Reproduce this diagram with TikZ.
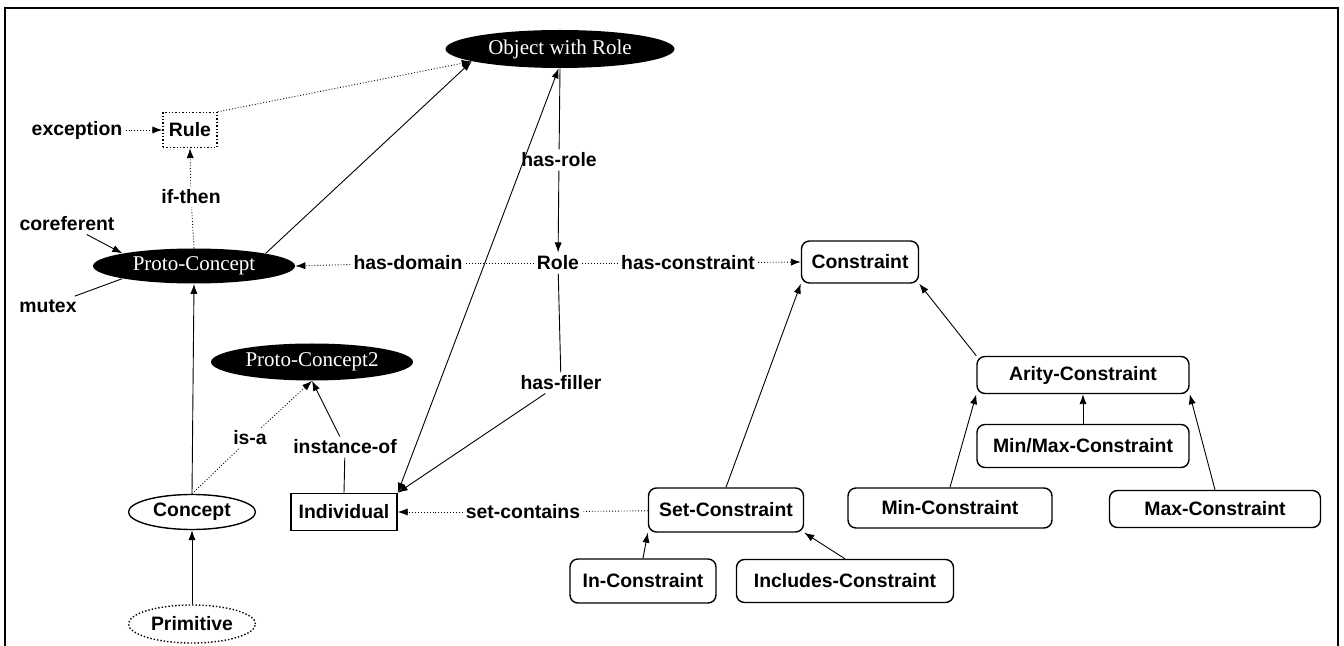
\documentclass[tikz,border=0pt]{standalone}
\usepackage{fontspec}
\setmainfont{Liberation Sans}
\newfontfamily\serifell{Liberation Serif}
\usepackage{tikz}
\usetikzlibrary{calc}
\usetikzlibrary{arrows.meta,shapes,shapes.geometric}
\usetikzlibrary{positioning}

\begin{document}
\begin{tikzpicture}[x=0.5pt,y=-0.5pt,
    lbl/.style={font=\bfseries\fontsize{9.7}{11}\selectfont,inner sep=1.5pt},
    blob/.style={ellipse,fill=black,text=white,font=\serifell\fontsize{10.5}{12}\selectfont,inner sep=0pt},
    whiteoval/.style={ellipse,draw,line width=0.7pt,lbl,inner sep=0pt},
    rbox/.style={rectangle,rounded corners=4pt,draw,line width=0.7pt,lbl,inner sep=0pt,minimum height=21pt},
    sqbox/.style={rectangle,draw,line width=0.7pt,lbl,inner sep=0pt},
    arr/.style={-{Latex[length=5pt,width=3.6pt]}},
    solidline/.style={line width=0.45pt},
    dotline/.style={line width=0.45pt,densely dotted}]
  \useasboundingbox (0,0) rectangle (1344,646);
  \draw[line width=1.1pt] (5,646) -- (5,8) -- (1338,8) -- (1338,646);

  \node[blob,minimum width=114.5pt,minimum height=19pt] (owr) at (560,49) {Object with Role};
  \node[sqbox,densely dotted,minimum width=27pt,minimum height=17.5pt] (rule) at (190,130) {Rule};
  \node[lbl] (exc) at (77,130) {exception};
  \node[lbl] (ifthen) at (191,197) {if-then};
  \node[lbl] (coref) at (67,224) {coreferent};
  \node[blob,minimum width=101pt,minimum height=17.5pt] (pc) at (194,266) {Proto-Concept};
  \node[lbl] (mutex) at (48,306) {mutex};
  \node[lbl] (hasdom) at (408,263) {has-domain};
  \node[lbl] (role) at (558,263) {Role};
  \node[lbl] (hascons) at (688,263) {has-constraint};
  \node[rbox,minimum width=58.5pt] (cons) at (860,262) {Constraint};
  \node[lbl] (hasrole) at (559,160) {has-role};
  \node[blob,minimum width=101pt,minimum height=18.5pt] (pc2) at (312,362) {Proto-Concept2};
  \node[lbl] (hasfill) at (561,383) {has-filler};
  \node[lbl] (isa) at (250,438) {is-a};
  \node[lbl] (instof) at (345,447) {instance-of};
  \node[whiteoval,minimum width=63.5pt,minimum height=17.5pt] (concept) at (192,512) {Concept};
  \node[sqbox,minimum width=53pt,minimum height=18.5pt] (ind) at (344,512) {Individual};
  \node[lbl] (setcont) at (523,512) {set-contains};
  \node[rbox,minimum width=77.5pt,minimum height=22pt] (setc) at (726,510) {Set-Constraint};
  \node[rbox,minimum width=73pt,minimum height=22pt] (inc) at (643,581) {In-Constraint};
  \node[rbox,minimum width=108.5pt,minimum height=21.5pt] (inclc) at (845,581) {Includes-Constraint};
  \node[rbox,minimum width=106pt,minimum height=18.5pt] (arity) at (1083,375) {Arity-Constraint};
  \node[rbox,minimum width=106pt,minimum height=21.5pt] (minmax) at (1083,446) {Min/Max-Constraint};
  \node[rbox,minimum width=102pt,minimum height=20pt] (minc) at (950,508) {Min-Constraint};
  \node[rbox,minimum width=105.5pt,minimum height=18.5pt] (maxc) at (1215,509) {Max-Constraint};
  \node[whiteoval,densely dotted,minimum width=63.5pt,minimum height=19pt] (prim) at (192,624) {Primitive};

  \draw[dotline,arr] (exc) -- (rule.west);
  \draw[dotline,arr] (rule.north east) -- (owr.188);
  \draw[solidline,arr] (pc.north east) -- (owr.188);
  \draw[dotline] (pc.north) -- (ifthen);
  \draw[dotline,arr] (ifthen) -- (rule.south);
  \draw[solidline,arr] (coref) -- (pc.north west);
  \draw[solidline] (mutex) -- (pc.south west);
  \draw[solidline] (owr.south) -- (hasrole);
  \draw[solidline,arr] (hasrole) -- (role);
  \draw[dotline] (role) -- (hasdom);
  \draw[dotline,arr] (hasdom) -- (pc.east);
  \draw[dotline] (role) -- (hascons);
  \draw[dotline,arr] (hascons) -- (cons.west);
  \draw[solidline] (role) -- (hasfill);
  \draw[solidline,arr] (hasfill) -- (ind.north east);
  \draw[solidline,{Latex[length=5pt,width=3.6pt]}-{Latex[length=5pt,width=3.6pt]}] (ind.north east) -- (owr.266);
  \draw[solidline,arr] (concept.north) -- (pc.south);
  \draw[dotline] (concept.north) -- (isa);
  \draw[dotline,arr] (isa) -- (pc2.south);
  \draw[solidline] (ind.north) -- (instof);
  \draw[solidline,arr] (instof) -- (pc2.south);
  \draw[solidline,arr] (prim) -- (concept);
  \draw[dotline] (setc) -- (setcont);
  \draw[dotline,arr] (setcont) -- (ind.east);
  \draw[solidline,arr] (setc.north) -- (cons.south west);
  \draw[solidline,arr] (inc.north) -- (setc.south west);
  \draw[solidline,arr] (inclc.north) -- (setc.south east);
  \draw[solidline,arr] (arity.north west) -- (cons.south east);
  \draw[solidline,arr] (minmax) -- (arity);
  \draw[solidline,arr] (minc.north) -- (arity.south west);
  \draw[solidline,arr] (maxc.north) -- (arity.south east);
\end{tikzpicture}
\end{document}
